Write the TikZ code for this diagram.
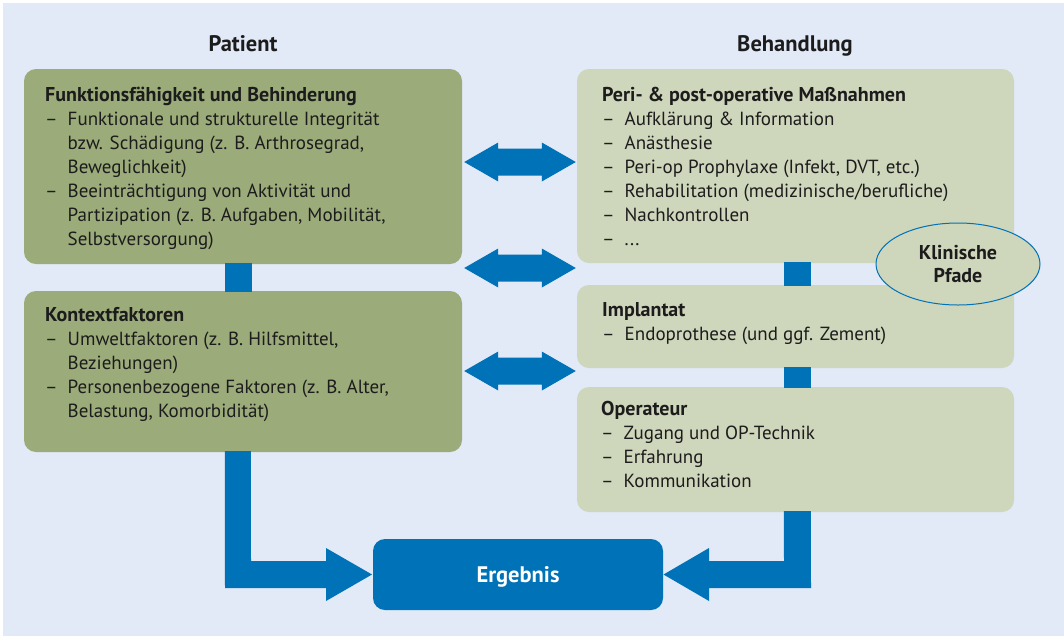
\documentclass[tikz,border=0pt]{standalone}
\usepackage{fontspec}
\setmainfont{PT Sans}
\usetikzlibrary{calc,shapes.geometric}
\definecolor{bg}{RGB}{226,233,247}
\definecolor{dkgreen}{RGB}{155,171,122}
\definecolor{ltgreen}{RGB}{206,214,187}
\definecolor{fatblue}{RGB}{0,114,183}
\definecolor{txt}{RGB}{28,28,28}
\newcommand\lidash{\makebox[22.5pt][l]{–}}
\newcommand\licont{\hspace*{22.5pt}}
\newcommand\ttl[1]{{\fontsize{20}{24}\selectfont\bfseries #1}}
\newcommand\fatdbl[2]{\fill[fatblue] (#1) -- ++(34,-19.5) -- ++(0,6) -- ($(#2)+(-34,-13.5)$) -- ++(0,-6) -- (#2) -- ++(-34,19.5) -- ++(0,-6) -- ($(#1)+(34,13.5)$) -- ++(0,6) -- cycle;}
\begin{document}
\begin{tikzpicture}[x=1pt,y=-1pt,
  patbox/.style={rectangle, fill=dkgreen, rounded corners=12pt, inner sep=0pt, minimum width=438pt},
  behbox/.style={rectangle, fill=ltgreen, rounded corners=12pt, inner sep=0pt, minimum width=437pt},
  txtblock/.style={anchor=base west, inner sep=0pt, align=left, text=txt, font=\fontsize{19}{24}\selectfont},
  hdr/.style={anchor=base, inner sep=0pt, text=txt, font=\fontsize{22.5}{26}\selectfont\bfseries}]
\useasboundingbox (0,0) rectangle (1064,638);
\fill[white] (0,0) rectangle (1064,638);
\fill[bg] (3,3) rectangle (1064,636);

% headers
\node[hdr] (hp) at (243,51) {Patient};
\node[hdr] (hb) at (795,51) {Behandlung};

% boxes
\node[patbox, minimum height=195pt] (b1) at (243,166.5) {};
\node[patbox, minimum height=161pt] (b2) at (243,371.5) {};
\node[behbox, minimum height=194pt] (r1) at (795.5,166) {};
\node[behbox, minimum height=83pt] (r2) at (795.5,326.5) {};
\node[behbox, minimum height=125pt] (r3) at (795.5,449.5) {};

% vertical connectors
\fill[fatblue] ($(b1.south west)+(201,-1)$) rectangle ($(b2.north west)+(228,1)$);
\fill[fatblue] ($(r1.south west)+(207,-1)$) rectangle ($(r2.north west)+(234,1)$);
\fill[fatblue] ($(r2.south west)+(207,-1)$) rectangle ($(r3.north west)+(234,1)$);

% L-shaped arrows to Ergebnis
\fill[fatblue] ($(b2.south west)+(201,-1)$) -- ++(26,0) -- (251,561) -- (326,561) -- (326,548) -- (372,574.5) -- (326,601) -- (326,588) -- (225,588) -- cycle;
\fill[fatblue] ($(r3.south west)+(207,-1)$) -- ++(27,0) -- (811,588) -- (709,588) -- (709,601) -- (663.5,574.5) -- (709,548) -- (709,561) -- (784,561) -- cycle;

\node[rectangle, fill=fatblue, rounded corners=12pt, minimum width=290pt, minimum height=71pt, inner sep=0pt, text=white, text depth=0pt, font=\fontsize{22.5}{26}\selectfont\bfseries] (erg) at (518,574.5) {Ergebnis};

% double arrows
\coordinate (y1) at (0,162);
\coordinate (y2) at (0,268);
\coordinate (y3) at (0,371);
\coordinate (l1) at ($(b1.east |- y1)+(2,0)$);
\coordinate (r1t) at ($(r1.west |- y1)+(-1,0)$);
\coordinate (l2) at ($(b1.east |- y2)+(2,0)$);
\coordinate (r2t) at ($(r1.west |- y2)+(-1,0)$);
\coordinate (l3) at ($(b2.east |- y3)+(2,0)$);
\coordinate (r3t) at ($(r2.west |- y3)+(-1,0)$);
\fatdbl{l1}{r1t}
\fatdbl{l2}{r2t}
\fatdbl{l3}{r3t}

% ellipse
\node[ellipse, fill=ltgreen, draw=fatblue, line width=1pt, minimum width=164pt, minimum height=82pt, inner sep=0pt, align=center, text=txt, font=\fontsize{20}{23}\selectfont\bfseries] (kp) at (958,264) {Klinische\\Pfade};

% texts (anchor = baseline of last line)
\node[txtblock] (t1) at (45,245) {\ttl{Funktionsfähigkeit und Behinderung}\\
\lidash Funktionale und strukturelle Integrität\\
\licont bzw. Schädigung (z. B. Arthrosegrad,\\
\licont Beweglichkeit)\\
\lidash Beeinträchtigung von Aktivität und\\
\licont Partizipation (z. B. Aufgaben, Mobilität,\\
\licont Selbstversorgung)};
\node[txtblock] (t2) at (45,417) {\ttl{Kontextfaktoren}\\
\lidash Umweltfaktoren (z. B. Hilfsmittel,\\
\licont Beziehungen)\\
\lidash Personenbezogene Faktoren (z. B. Alter,\\
\licont Belastung, Komorbidität)};
\node[txtblock] (t3) at (602,245) {\ttl{Peri- \& post-operative Maßnahmen}\\
\lidash Aufklärung \& Information\\
\lidash Anästhesie\\
\lidash Peri-op Prophylaxe (Infekt, DVT, etc.)\\
\lidash Rehabilitation (medizinische/berufliche)\\
\lidash Nachkontrollen\\
\lidash ...};
\node[txtblock] (t4) at (602,340) {\ttl{Implantat}\\
\lidash Endoprothese (und ggf. Zement)};
\node[txtblock] (t5) at (601,487) {\ttl{Operateur}\\
\lidash Zugang und OP-Technik\\
\lidash Erfahrung\\
\lidash Kommunikation};
\end{tikzpicture}
\end{document}
